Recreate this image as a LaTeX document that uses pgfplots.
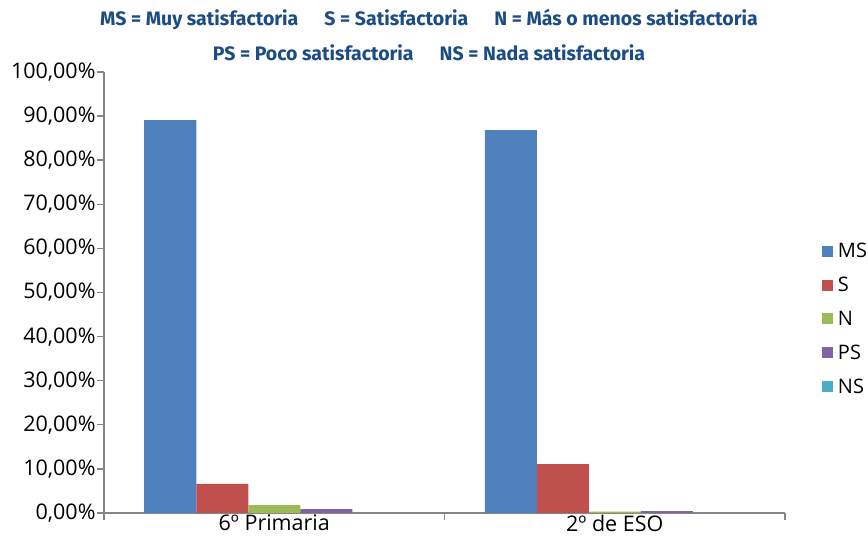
\documentclass[border=0pt]{standalone}
\usepackage{pgfplots}
\pgfplotsset{compat=1.18}
\usepackage{fontspec}
\setmainfont{Open Sans}
\newfontfamily\titlefont{Fira Sans}
\definecolor{cMS}{HTML}{4F81BD}
\definecolor{cS}{HTML}{C0504D}
\definecolor{cN}{HTML}{9BBB59}
\definecolor{cPS}{HTML}{8064A2}
\definecolor{cNS}{HTML}{4BACC6}
\definecolor{ttl}{HTML}{1B4C86}
\definecolor{axg}{HTML}{868686}
\begin{document}
\begin{tikzpicture}
\path[use as bounding box] (0,0) rectangle (868pt,537pt);
\begin{axis}[
  at={(104pt,24pt)}, anchor=south west,
  scale only axis, width=681pt, height=441pt,
  ybar=0pt, bar width=52pt,
  xmin=-0.5, xmax=1.5, ymin=0, ymax=100,
  axis lines*=left,
  axis line style={draw=axg, line width=1.6pt},
  every tick/.style={draw=axg, line width=1.4pt},
  tick align=outside,
  xtick={-0.5,0.5,1.5}, xticklabels={}, major tick length=7pt,
  extra x ticks={0,1}, extra x tick labels={6º Primaria,2º de ESO},
  extra x tick style={major tick length=0pt},
  ytick={0,10,...,100},
  /pgf/number format/assume math mode=true,
  yticklabel={\pgfmathprintnumber[fixed,zerofill,precision=2,use comma]{\tick}\%},
  tick label style={font=\fontsize{21.5}{25}\selectfont, text=black},
  yticklabel style={xshift=2pt},
  xticklabel style={yshift=1.5pt},
  legend style={at={(1.054,0.44)}, anchor=west, draw=none, fill=none,
    font=\fontsize{20}{23}\selectfont, row sep=14pt, inner sep=0pt},
  legend cell align=left,
  legend image code/.code={\fill[#1, draw=none] (0pt,-5.5pt) rectangle (11pt,5.5pt); \path (0pt,0pt) -- (14pt,0pt);},
]
\addplot[fill=cMS, draw=none] coordinates {(0,89.1) (1,86.8)};
\addplot[fill=cS, draw=none] coordinates {(0,6.6) (1,11.1)};
\addplot[fill=cN, draw=none] coordinates {(0,1.8) (1,0.3)};
\addplot[fill=cPS, draw=none] coordinates {(0,0.9) (1,0.4)};
\addplot[fill=cNS, draw=none] coordinates {(0,0) (1,0)};
\legend{MS,S,N,PS,NS}
\end{axis}
\node[text=ttl, font=\titlefont\bfseries\fontsize{19.5}{22}\selectfont] at (429pt,517pt) {MS = Muy satisfactoria\hspace{26pt}S = Satisfactoria\hspace{26pt}N = Más o menos satisfactoria};
\node[text=ttl, font=\titlefont\bfseries\fontsize{19.5}{22}\selectfont] at (429pt,484pt) {PS = Poco satisfactoria\hspace{26pt}NS = Nada satisfactoria};
\end{tikzpicture}
\end{document}
